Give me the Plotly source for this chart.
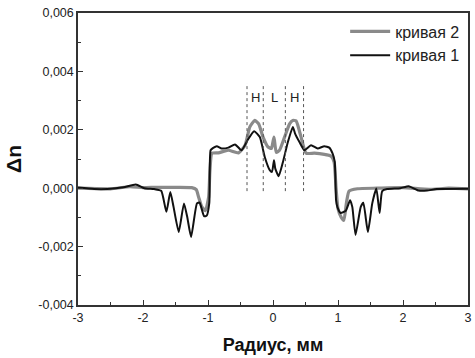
import plotly.graph_objects as go

# ---- data ----
x_curve2 = [-3.0, -2.5, -2.2, -2.0, -1.8, -1.5, -1.25, -1.18, -1.145, -1.095, -1.04, -0.99, -0.97,
            -0.94, -0.84, -0.687, -0.53, -0.43, -0.356, -0.28, -0.22, -0.153, -0.076, -0.025, 0.015,
            0.05, 0.1, 0.178, 0.255, 0.305, 0.356, 0.432, 0.509, 0.636, 0.79, 0.89, 0.94, 0.97,
            1.0, 1.05, 1.09, 1.13, 1.17, 1.3, 1.6, 2.0, 2.4, 2.7, 3.0]
y_curve2 = [0.0, -0.02, 0.05, 0.02, 0.03, 0.03, 0.02, -0.05, -0.3, -0.64, -0.77, -0.3, 0.6,
            1.19, 1.21, 1.3, 1.21, 1.47, 2.1, 2.32, 2.2, 1.75, 1.41, 1.36, 1.75,
            1.23, 1.3, 1.75, 2.2, 2.32, 2.3, 1.75, 1.2, 1.2, 1.16, 1.1, 0.9, 0.0,
            -0.7, -1.0, -1.1, -0.5, -0.1, -0.02, 0.0, 0.02, -0.04, 0.0, -0.02]

x_curve1 = [-3.0, -2.75, -2.55, -2.3, -2.11, -1.98, -1.83, -1.72, -1.64, -1.58, -1.53, -1.45,
            -1.37, -1.32, -1.26, -1.17, -1.13, -1.06, -1.02, -0.98, -0.96, -0.92, -0.865, -0.79,
            -0.687, -0.585, -0.484, -0.392, -0.29, -0.203, -0.127, -0.05, -0.015, 0.015, 0.035,
            0.087, 0.153, 0.229, 0.305, 0.34, 0.407, 0.483, 0.585, 0.687, 0.789, 0.865, 0.916,
            0.95, 0.97, 0.99, 1.04, 1.12, 1.186, 1.22, 1.27, 1.35, 1.39, 1.46, 1.527, 1.59, 1.64,
            1.68, 1.756, 1.96, 2.087, 2.24, 2.37, 2.52, 3.0]
y_curve1 = [0.02, -0.03, -0.03, 0.03, 0.13, 0.0, -0.03, -0.09, -0.81, -0.13, -0.64, -1.5,
            -0.52, -0.98, -1.67, -0.52, -0.49, -0.96, -0.94, -0.5, 1.3, 1.38, 1.44, 1.36,
            1.39, 1.5, 1.3, 1.64, 1.95, 1.75, 1.07, 0.62, 0.56, 0.96, 0.67,
            0.41, 0.9, 1.58, 2.1, 1.87, 1.58, 1.3, 1.47, 1.36, 1.44, 1.39, 1.19,
            0.9, -0.4, -0.64, -0.85, -0.77, -0.41, -0.64, -1.6, -0.64, -0.5, -1.5, -0.52, -0.01, -0.85,
            -0.1, -0.03, 0.0, 0.07, -0.08, -0.08, -0.03, -0.02]
y_scale = 1e-3

zone_bounds = [-0.4, -0.15, 0.19, 0.47]
zone_labels = ["H", "L", "H"]
zone_ymin, zone_ymax, zone_label_y = -0.0001, 0.0036, 0.0031

x_tickvals = [-3, -2, -1, 0, 1, 2, 3]
x_ticktext = ["-3", "-2", "-1", "0", "1", "2", "3"]
y_tickvals = [-0.004, -0.002, 0.0, 0.002, 0.004, 0.006]
y_ticktext = ["-0,004", "-0,002", "0,000", "0,002", "0,004", "0,006"]

FONT = "Liberation Sans, Arial, sans-serif"

fig = go.Figure()
fig.add_trace(go.Scatter(x=x_curve2, y=[v * y_scale for v in y_curve2], mode="lines",
                         name="кривая 2", line=dict(color="#8a8a8a", width=3.2, shape="spline", smoothing=0.5)))
fig.add_trace(go.Scatter(x=x_curve1, y=[v * y_scale for v in y_curve1], mode="lines",
                         name="кривая 1", line=dict(color="#111111", width=2, shape="spline", smoothing=0.5)))

for b in zone_bounds:
    fig.add_shape(type="line", xref="x", yref="y", x0=b, x1=b, y0=zone_ymin, y1=zone_ymax,
                  line=dict(color="#555555", width=1, dash="dot"))
for i, lab in enumerate(zone_labels):
    fig.add_annotation(x=(zone_bounds[i] + zone_bounds[i + 1]) / 2, y=zone_label_y, text=lab,
                       showarrow=False, font=dict(family=FONT, size=13, color="#222222"))

axis_common = dict(showline=True, linecolor="#333", linewidth=1.5, mirror=True, ticks="inside",
                   ticklen=5, tickwidth=1.2, tickcolor="#333", showgrid=False, zeroline=False,
                   tickfont=dict(family=FONT, size=12.5, color="#222"))
fig.update_xaxes(range=[-3, 3], tickvals=x_tickvals, ticktext=x_ticktext,
                 minor=dict(ticks="inside", ticklen=3, dtick=0.5, tick0=0, tickcolor="#333"),
                 title=dict(text="<b>Радиус, мм</b>", font=dict(family=FONT, size=18, color="#111"), standoff=15),
                 **axis_common)
fig.update_yaxes(range=[-0.004, 0.006], tickvals=y_tickvals, ticktext=y_ticktext,
                 minor=dict(ticks="inside", ticklen=3, dtick=0.001, tick0=0, tickcolor="#333"),
                 title=dict(text="<b>Δn</b>", font=dict(family=FONT, size=21, color="#111"), standoff=11),
                 **axis_common)

fig.update_layout(width=475, height=358, margin=dict(l=78, r=3, t=13, b=53),
                  plot_bgcolor="white", paper_bgcolor="white",
                  legend=dict(x=0.685, y=0.995, xanchor="left", yanchor="top", bgcolor="rgba(0,0,0,0)",
                              font=dict(family=FONT, size=16, color="#222"), tracegroupgap=0,
                              itemwidth=40),
                  showlegend=True)

fig.write_html("out.html")
